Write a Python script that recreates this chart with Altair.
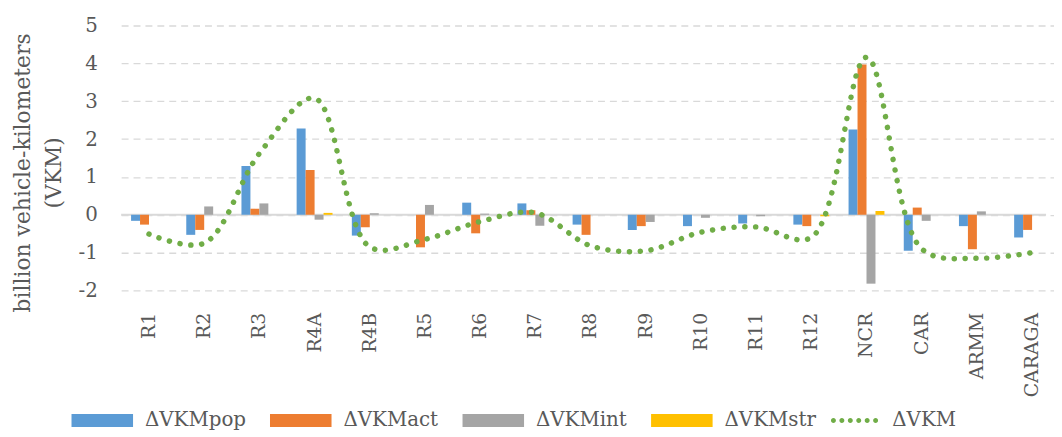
import altair as alt
import pandas as pd

regions = ["R1", "R2", "R3", "R4A", "R4B", "R5", "R6", "R7", "R8", "R9",
           "R10", "R11", "R12", "NCR", "CAR", "ARMM", "CARAGA"]
series = ["ΔVKMpop", "ΔVKMact", "ΔVKMint", "ΔVKMstr"]
vkm_pop = [-0.16, -0.53, 1.29, 2.28, -0.55, 0.0, 0.32, 0.30, -0.26, -0.40,
           -0.30, -0.23, -0.26, 2.25, -0.95, -0.30, -0.60]
vkm_act = [-0.26, -0.40, 0.16, 1.18, -0.33, -0.86, -0.49, 0.12, -0.53, -0.30,
           0.0, 0.0, -0.30, 3.97, 0.19, -0.91, -0.40]
vkm_int = [0.0, 0.22, 0.30, -0.13, 0.04, 0.26, 0.03, -0.29, 0.0, -0.19,
           -0.08, -0.04, 0.0, -1.82, -0.16, 0.09, 0.0]
vkm_str = [0.0, 0.0, 0.0, 0.05, 0.0, 0.0, 0.0, 0.0, 0.0, 0.0,
           0.0, 0.0, -0.04, 0.10, 0.0, 0.0, 0.0]
vkm_total = [-0.51, -0.75, 1.62, 3.08, -0.85, -0.65, -0.18, 0.05, -0.82, -0.95,
             -0.46, -0.32, -0.60, 4.16, -0.90, -1.15, -1.00]
line_series = "ΔVKM"
y_ticks = [-2, -1, 0, 1, 2, 3, 4, 5]

bar_colors = ["#5B9BD5", "#ED7D31", "#A5A5A5", "#FFC000"]
line_color = "#70AD47"
FONT = "DejaVu Serif"
TEXT = "#595959"

rows = []
for name, vals in zip(series, [vkm_pop, vkm_act, vkm_int, vkm_str]):
    for r, v in zip(regions, vals):
        rows.append({"region": r, "series": name, "value": v})
bars_df = pd.DataFrame(rows)
line_df = pd.DataFrame({"region": regions, "series": line_series,
                        "value": vkm_total, "idx": list(range(len(regions)))})

RECT_PATH = "M-1,-0.21L1,-0.21L1,0.21L-1,0.21Z"
dots = []
r = 0.1
for cx in [-0.85, -0.51, -0.17, 0.17, 0.51, 0.85]:
    dots.append(f"M{cx - r:.3f},0A{r},{r} 0 1 0 {cx + r:.3f},0A{r},{r} 0 1 0 {cx - r:.3f},0Z")
DOTS_PATH = "".join(dots)

x_axis = alt.Axis(title=None, labelAngle=270, labelFont=FONT, labelFontSize=19,
                  labelColor=TEXT, labelPadding=22, ticks=False, tickSize=0,
                  domain=False, grid=False)
x_scale = alt.Scale(range=[0, 946], paddingInner=0.35, paddingOuter=0.18)

y_axis = alt.Axis(values=y_ticks, title=["billion vehicle-kilometers", "(VKM)"],
                  labelExpr="'' + datum.value", labelOverlap=False,
                  grid=True, gridDash=[7, 5], gridColor="#D9D9D9", gridWidth=1.3,
                  domain=False, ticks=False, tickSize=0, labelPadding=24,
                  labelFont=FONT, labelFontSize=20, labelColor=TEXT,
                  titleFont=FONT, titleFontSize=22, titleFontWeight="normal",
                  titleColor=TEXT, titleAngle=270, titleX=-109, titleY=148,
                  titleBaseline="top", titleAlign="center", titleLineHeight=31)
y_scale = alt.Scale(domain=[-2, 5], nice=False)


def x_enc():
    return alt.X("region:N", sort=regions, scale=x_scale, axis=x_axis)


def y_enc():
    return alt.Y("value:Q", scale=y_scale, axis=y_axis)


bars = alt.Chart(bars_df).mark_bar().encode(
    x=x_enc(),
    xOffset=alt.XOffset("series:N", sort=series, scale=alt.Scale(paddingInner=0)),
    y=y_enc(),
    y2=alt.datum(0),
    color=alt.Color(
        "series:N", sort=series,
        scale=alt.Scale(domain=series, range=bar_colors),
        legend=alt.Legend(title=None, orient="none", legendX=-50, legendY=367,
                          direction="horizontal", symbolType=RECT_PATH,
                          symbolSize=3844, symbolStrokeWidth=0, padding=0,
                          labelFont=FONT, labelFontSize=20, labelColor=TEXT,
                          labelOffset=12, columnPadding=24),
    ),
)

zero_rule = alt.Chart(pd.DataFrame({"value": [0.0]})).mark_rule(
    color="#D9D9D9", strokeWidth=2
).encode(y=y_enc())

line = alt.Chart(line_df).mark_line(
    strokeDash=[0.1, 10.8], strokeCap="round", strokeWidth=5.5,
    interpolate="catmull-rom",
).encode(
    x=x_enc(),
    y=y_enc(),
    order=alt.Order("idx:Q"),
    color=alt.Color(
        "series:N",
        scale=alt.Scale(domain=[line_series], range=[line_color]),
        legend=alt.Legend(title=None, orient="none", legendX=714, legendY=373,
                          symbolType=DOTS_PATH, symbolSize=2500,
                          symbolFillColor=line_color, symbolStrokeWidth=0,
                          symbolDash=[1, 0], padding=0,
                          labelFont=FONT, labelFontSize=20, labelColor=TEXT,
                          labelOffset=13),
    ),
)

chart = alt.layer(zero_rule, bars, line).resolve_scale(
    color="independent"
).properties(
    width=932, height=267,
    padding={"left": 114, "top": 16, "right": 8, "bottom": 146},
    autosize=alt.AutoSizeParams(type="none"),
).configure_view(stroke=None)

chart.save("out.html", embed_options={"renderer": "svg", "actions": False})
